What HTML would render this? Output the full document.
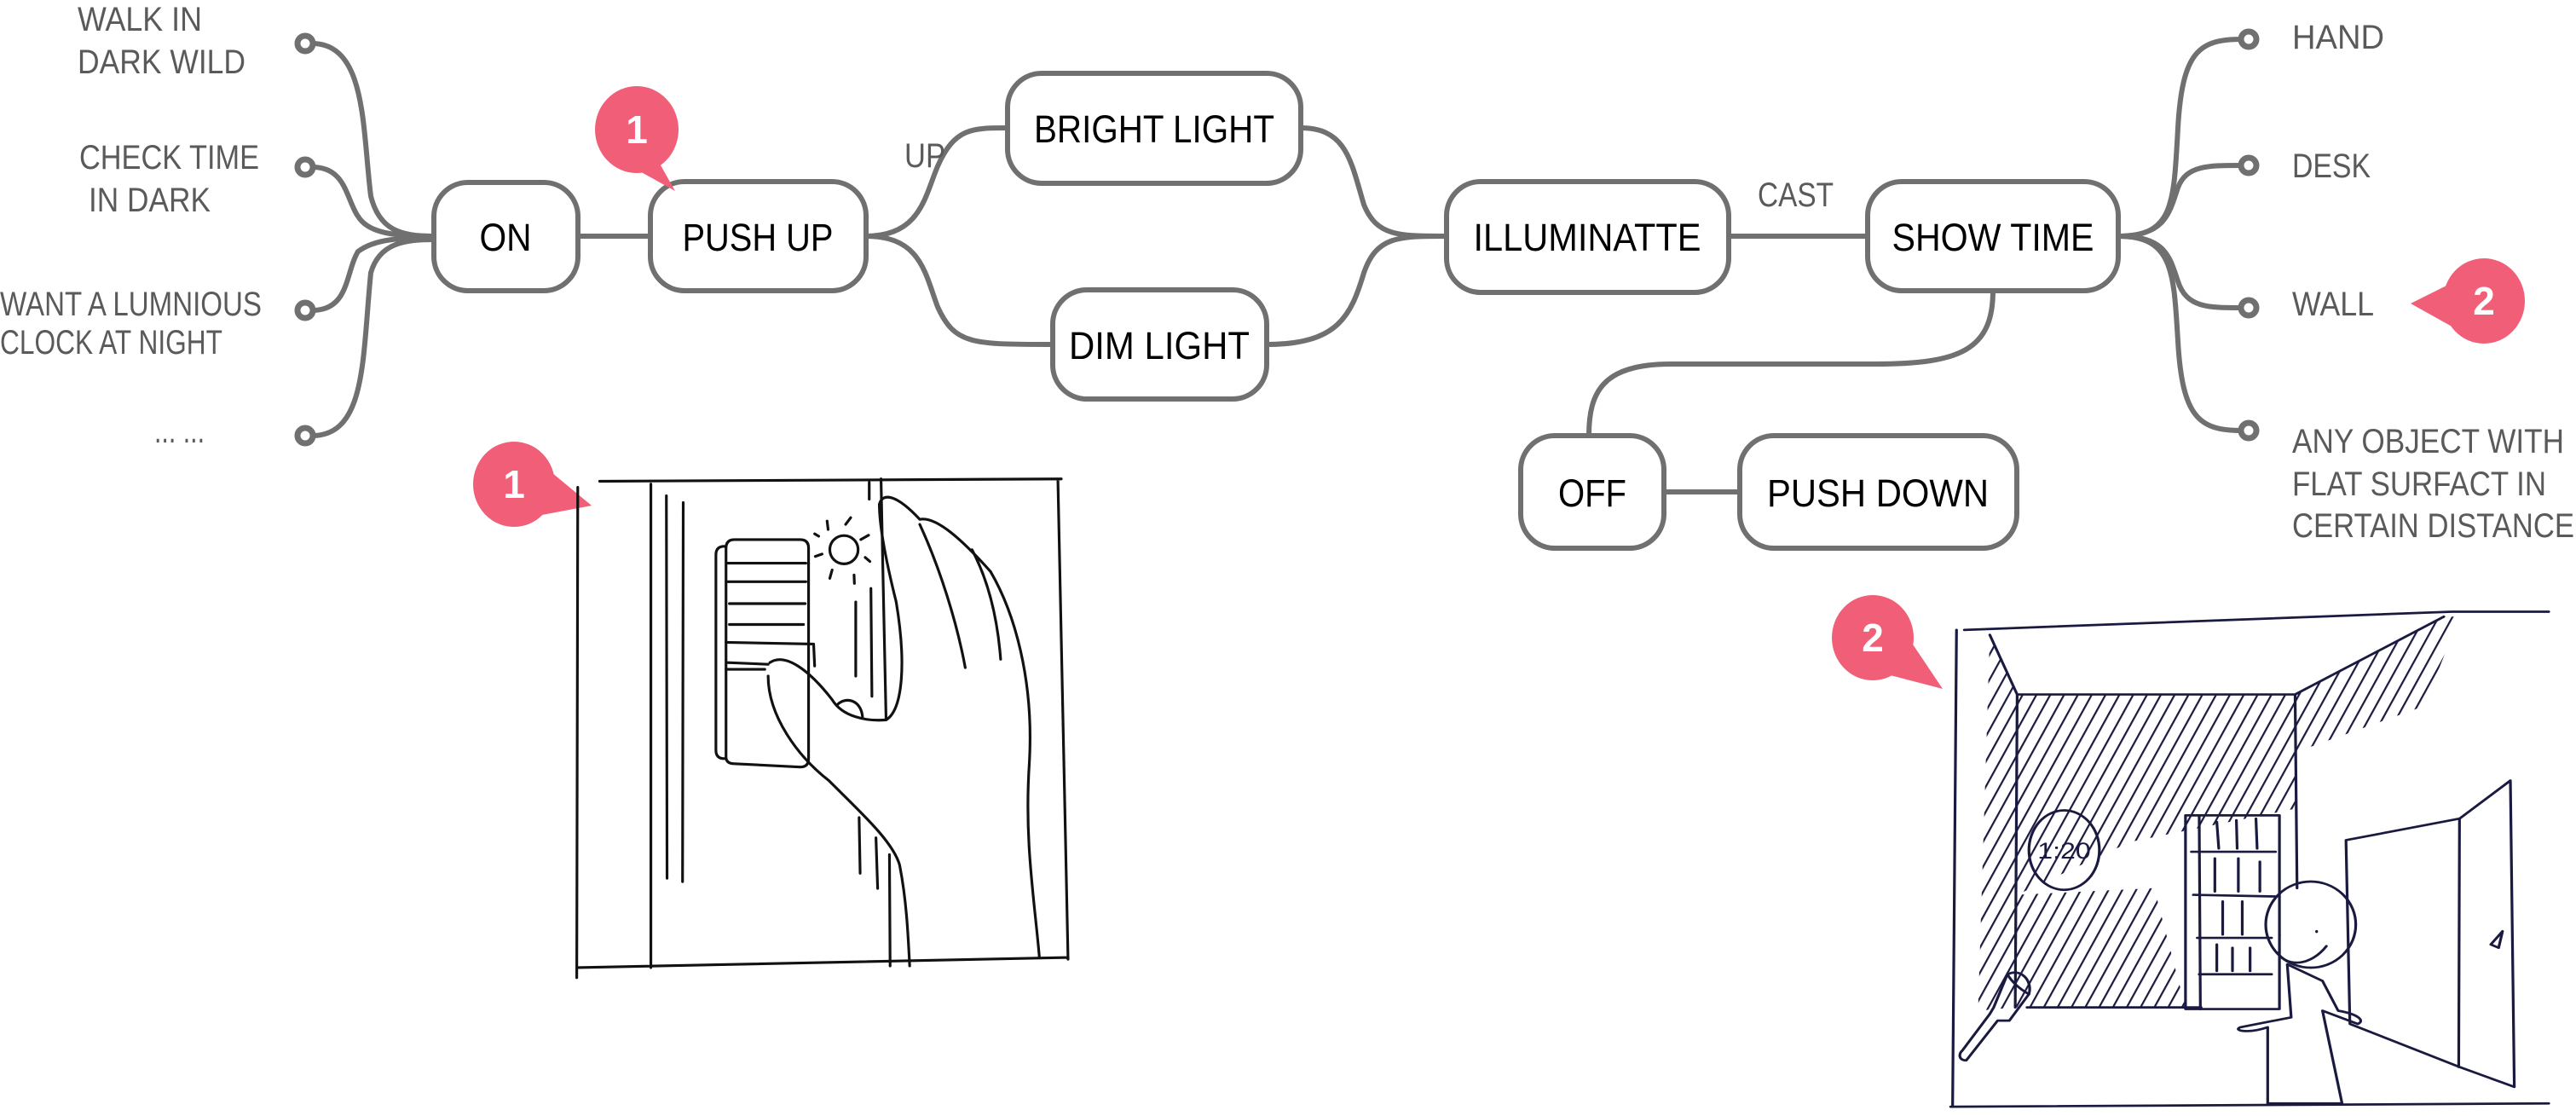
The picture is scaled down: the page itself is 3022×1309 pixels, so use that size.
<!DOCTYPE html>
<html><head><meta charset="utf-8"><style>
html,body{margin:0;padding:0;background:#fff;overflow:hidden}
svg{display:block}
.t{font-family:"Liberation Sans",sans-serif;fill:#5a5a5a;font-size:40px;}
.n{font-family:"Liberation Sans",sans-serif;fill:#000;font-size:45px;text-anchor:middle;}
.c{fill:none;stroke:#707070;stroke-width:6;}
.b{fill:#fff;stroke:#707070;stroke-width:6;}
.s{fill:none;stroke:#111;stroke-width:8;stroke-linecap:round;stroke-linejoin:round}
.s2{fill:none;stroke:#1a1a40;stroke-width:7;stroke-linecap:round;stroke-linejoin:round}
.bn{font-family:"Liberation Sans",sans-serif;font-weight:bold;fill:#fff;font-size:46px;text-anchor:middle}
</style></head><body>
<svg width="3022" height="1309" viewBox="0 0 3022 1309" xmlns="http://www.w3.org/2000/svg">
<defs>
<pattern id="h" width="32" height="32" patternUnits="userSpaceOnUse" patternTransform="rotate(25)">
<line x1="8" y1="0" x2="8" y2="32" stroke="#1a1a40" stroke-width="5"/>
</pattern>
</defs>
<!-- left texts -->
<text class="t" x="91" y="36" textLength="146" lengthAdjust="spacingAndGlyphs">WALK IN</text>
<text class="t" x="91" y="86" textLength="197" lengthAdjust="spacingAndGlyphs">DARK WILD</text>
<text class="t" x="93" y="198" textLength="211" lengthAdjust="spacingAndGlyphs">CHECK TIME</text>
<text class="t" x="104" y="248" textLength="143" lengthAdjust="spacingAndGlyphs">IN DARK</text>
<text class="t" x="0" y="370" textLength="307" lengthAdjust="spacingAndGlyphs">WANT A LUMNIOUS</text>
<text class="t" x="0" y="415" textLength="261" lengthAdjust="spacingAndGlyphs">CLOCK AT NIGHT</text>
<text class="t" x="181" y="519" textLength="59" lengthAdjust="spacingAndGlyphs">... ...</text>
<!-- left connectors -->
<path class="c" d="M366,51 C430,51 425,150 435,230 C445,270 470,277 509,277"/>
<path class="c" d="M366,196 C410,196 405,240 425,260 C440,275 470,277 509,277"/>
<path class="c" d="M366,364 C410,364 405,320 420,295 C440,280 470,279 509,279"/>
<path class="c" d="M366,511 C430,511 425,420 435,320 C445,285 475,281 509,281"/>
<g fill="#fff" stroke="#707070" stroke-width="7">
<circle cx="358" cy="51" r="9"/><circle cx="358" cy="196" r="9"/><circle cx="358" cy="364" r="9"/><circle cx="358" cy="511" r="9"/>
</g>
<!-- connectors -->
<path class="c" d="M678,277 L763,277"/>
<path class="c" d="M1016,277 C1080,277 1085,230 1100,195 C1120,150 1140,150 1182,150"/>
<path class="c" d="M1016,277 C1080,277 1085,320 1100,360 C1120,404 1140,404 1235,404"/>
<path class="c" d="M1526,150 C1580,150 1585,190 1600,240 C1615,277 1640,277 1697,277"/>
<path class="c" d="M1486,404 C1570,404 1585,370 1600,320 C1615,277 1640,277 1697,277"/>
<path class="c" d="M2028,277 L2191,277"/>
<path class="c" d="M2338,341 C2338,410 2300,427 2200,427 L1960,427 C1880,427 1864,460 1864,511"/>
<path class="c" d="M1952,577 L2041,577"/>
<path class="c" d="M2485,277 C2550,277 2550,240 2555,150 C2560,60 2580,46 2630,46"/>
<path class="c" d="M2485,277 C2540,277 2545,250 2555,220 C2565,194 2590,194 2630,194"/>
<path class="c" d="M2485,277 C2540,277 2545,300 2555,330 C2565,361 2590,361 2630,361"/>
<path class="c" d="M2485,277 C2550,277 2550,320 2555,400 C2560,490 2580,505 2630,505"/>
<g fill="#fff" stroke="#707070" stroke-width="7">
<circle cx="2638" cy="46" r="9"/><circle cx="2638" cy="194" r="9"/><circle cx="2638" cy="361" r="9"/><circle cx="2638" cy="505" r="9"/>
</g>
<!-- nodes -->
<rect class="b" x="509" y="214" width="169" height="127" rx="40"/>
<text class="n" x="593" y="294" textLength="61" lengthAdjust="spacingAndGlyphs">ON</text>
<rect class="b" x="763" y="213" width="253" height="128" rx="40"/>
<text class="n" x="889" y="294" textLength="177" lengthAdjust="spacingAndGlyphs">PUSH UP</text>
<rect class="b" x="1182" y="86" width="344" height="129" rx="40"/>
<text class="n" x="1354" y="167" textLength="282" lengthAdjust="spacingAndGlyphs">BRIGHT LIGHT</text>
<rect class="b" x="1235" y="340" width="251" height="128" rx="40"/>
<text class="n" x="1360" y="421" textLength="212" lengthAdjust="spacingAndGlyphs">DIM LIGHT</text>
<rect class="b" x="1697" y="213" width="331" height="130" rx="40"/>
<text class="n" x="1862" y="294" textLength="267" lengthAdjust="spacingAndGlyphs">ILLUMINATTE</text>
<rect class="b" x="2191" y="213" width="294" height="128" rx="40"/>
<text class="n" x="2338" y="294" textLength="237" lengthAdjust="spacingAndGlyphs">SHOW TIME</text>
<rect class="b" x="1784" y="511" width="168" height="132" rx="40"/>
<text class="n" x="1868" y="594" textLength="80" lengthAdjust="spacingAndGlyphs">OFF</text>
<rect class="b" x="2041" y="511" width="325" height="132" rx="40"/>
<text class="n" x="2203" y="594" textLength="260" lengthAdjust="spacingAndGlyphs">PUSH DOWN</text>
<text class="t" x="1061" y="196" textLength="48" lengthAdjust="spacingAndGlyphs">UP</text>
<text class="t" x="2062" y="242" textLength="89" lengthAdjust="spacingAndGlyphs">CAST</text>
<!-- right texts -->
<text class="t" x="2689" y="57" textLength="108" lengthAdjust="spacingAndGlyphs">HAND</text>
<text class="t" x="2689" y="208" textLength="92" lengthAdjust="spacingAndGlyphs">DESK</text>
<text class="t" x="2689" y="370" textLength="96" lengthAdjust="spacingAndGlyphs">WALL</text>
<text class="t" x="2689" y="531" textLength="319" lengthAdjust="spacingAndGlyphs">ANY OBJECT WITH</text>
<text class="t" x="2689" y="581" textLength="298" lengthAdjust="spacingAndGlyphs">FLAT SURFACT IN</text>
<text class="t" x="2689" y="630" textLength="331" lengthAdjust="spacingAndGlyphs">CERTAIN DISTANCE</text>
<!-- badges -->
<g fill="#f05f77">
<ellipse cx="747" cy="152" rx="49" ry="51"/><polygon points="770,185 792,224 740,195"/>
<ellipse cx="2914" cy="353" rx="48" ry="50"/><polygon points="2880,330 2828,356 2880,385"/>
<ellipse cx="603" cy="568" rx="48" ry="50"/><polygon points="630,540 694,593 630,605"/>
<ellipse cx="2197" cy="748" rx="48" ry="50"/><polygon points="2220,720 2279,808 2210,790"/>
</g>
<text class="bn" x="747" y="168">1</text>
<text class="bn" x="2914" y="369">2</text>
<text class="bn" x="603" y="584">1</text>
<text class="bn" x="2197" y="764">2</text>
<!-- sketch 1 -->
<g transform="translate(660,540) scale(0.3953)">
<path class="s" d="M110,62 L1480,55 M45,80 L42,1535 M45,1505 L1500,1475 M1470,60 L1500,1480"/>
<path class="s" d="M262,70 L262,1505 M308,105 L310,1240 M358,125 L356,1250"/>
<path class="s" d="M485,260 Q485,235 510,235 L705,235 Q730,235 730,260 L730,885 Q730,910 705,910 L510,900 Q485,900 485,880 Z"/>
<path class="s" d="M480,255 Q455,255 455,280 L455,860 Q455,885 480,885"/>
<path class="s" d="M490,305 L722,305 M490,360 L722,360 M495,425 L720,425 M495,487 L715,487 M485,540 L745,545 M490,600 L610,605 M485,620 L600,620 M745,545 L748,610"/>
<circle class="s" cx="835" cy="265" r="42"/>
<path class="s" d="M785,180 L788,205 M840,190 L855,170 M885,235 L908,222 M898,288 L912,300 M865,340 L866,365 M800,325 L793,350 M750,285 L770,278 M748,218 L760,225"/>
<path class="s" d="M615,600 C660,570 730,620 800,710 C830,760 900,775 960,770 C1010,740 1020,600 990,420 C960,300 940,200 940,130 C950,95 990,100 1060,175 C1110,165 1190,240 1270,330 C1340,450 1400,650 1385,900 C1370,1130 1400,1300 1415,1475"/>
<path class="s" d="M815,725 C840,700 885,710 890,760"/>
<path class="s" d="M610,640 C610,760 700,880 790,950 C880,1040 980,1130 1000,1200 C1020,1300 1025,1400 1030,1500"/>
<path class="s" d="M1060,190 C1120,320 1170,480 1195,615 M1215,265 C1260,350 1290,460 1300,590"/>
<path class="s" d="M870,420 L870,640 M915,380 L918,700 M880,1060 L883,1225 M930,1120 L935,1270 M970,1170 L972,1500 M910,65 L910,115 M945,55 L950,300 L960,770"/>
</g>
<!-- sketch 2 -->
<g transform="translate(2270,700) scale(0.4592,0.3884)">
<path fill="url(#h)" d="M210,295 L920,295 L920,640 L500,740 L210,900 Z M210,900 L560,880 L640,1240 L235,1240 L205,1240 Z M140,115 L210,295 L205,1240 L110,1250 Z M920,295 L1300,60 L1340,60 L1250,330 L920,470 Z"/>
<path class="s2" d="M75,100 L1320,45 L1568,45 M55,100 L45,1540 M40,1540 L1568,1530"/>
<path class="s2" d="M140,115 L210,295 L920,295 L1300,60 M210,295 L205,1240 M235,1240 L680,1240 M920,295 L925,880"/>
<ellipse cx="330" cy="765" rx="90" ry="120" fill="#fff" class="s2"/>
<text x="330" y="790" font-family="Liberation Sans" font-size="70" fill="#1a1a40" text-anchor="middle">1:20</text>
<rect x="640" y="660" width="240" height="585" fill="#fff" class="s2"/>
<path class="s2" d="M655,770 L870,770 M660,900 L870,905 M670,1030 L860,1030 M675,1140 L860,1140 M675,660 L678,1245 M720,680 L725,760 M770,675 L772,760 M820,670 L823,760 M715,790 L715,890 M775,790 L775,890 M830,800 L830,890 M735,920 L735,1020 M785,920 L785,1020 M720,1050 L720,1130 M760,1060 L760,1130 M805,1060 L805,1130"/>
<path fill="#fff" class="s2" d="M1050,735 L1340,670 L1470,555 L1480,1480 L1340,1420 L1060,1290 Z"/>
<path class="s2" d="M1340,670 L1338,1420 M1420,1050 L1450,1010 L1440,1060 Z"/>
<ellipse cx="960" cy="990" rx="115" ry="130" fill="#fff" class="s2"/>
<path class="s2" d="M880,1020 L880,1022 M975,1010 L975,1012 M875,1075 C900,1120 960,1115 1000,1055"/>
<path fill="#fff" class="s2" d="M900,1110 L910,1270 L780,1300 C760,1310 800,1320 850,1300 L850,1530 L1040,1530 L990,1250 L1080,1290 C1100,1280 1080,1260 1030,1250 L990,1160 Z"/>
<path fill="#fff" class="s2" d="M185,1140 C220,1120 250,1160 240,1200 L190,1280 L160,1280 L80,1400 C60,1400 60,1380 70,1370 L140,1260 L150,1240 Z"/>
<path class="s2" d="M185,1140 C200,1170 225,1190 240,1200"/>
</g>
</svg>
</body></html>
